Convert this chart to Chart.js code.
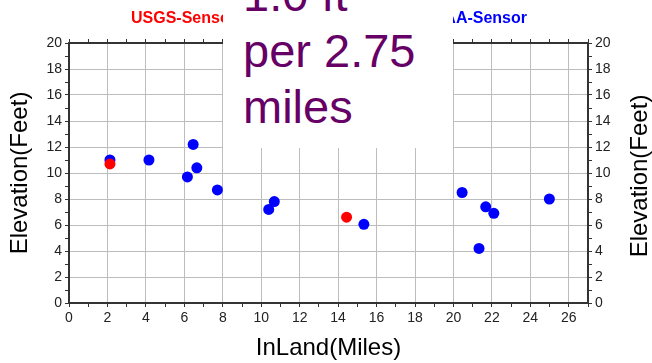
<!DOCTYPE html>
<html>
<head>
<meta charset="utf-8">
<script src="https://cdn.jsdelivr.net/npm/chart.js@4"></script>
<style>
  body { margin: 0; background: #fff; }
  #wrap { position: relative; width: 652px; height: 363px; overflow: hidden; }
  #note {
    position: absolute; left: 223px; top: 0; width: 230px; height: 148px;
    background: #fff; overflow: hidden;
  }
  #note div {
    margin-top: -33px; padding-left: 20px;
    font: 47px "Liberation Sans", Arial, sans-serif; line-height: 56px; color: #660066;
  }
</style>
</head>
<body>
<div id="wrap">
  <canvas id="myChart" width="652" height="363"></canvas>
  <div id="note"><div>1.0 ft<br>per 2.75<br>miles</div></div>
</div>
<script>
// readings
const usgsMiles = [2.13, 14.44];
const usgsFeet = [10.7, 6.6];
const noaaMiles = [2.13, 4.16, 6.46, 6.16, 6.65, 7.72, 10.39, 10.68, 15.34, 20.45, 21.33, 21.68, 22.1, 24.99];
const noaaFeet = [11.0, 11.0, 12.2, 9.7, 10.4, 8.7, 7.2, 7.8, 6.05, 8.5, 4.2, 7.4, 6.9, 8.0];
const xRange = [0, 27];
const yRange = [0, 20];

const toPoints = (xs, ys) => xs.map((x, i) => ({ x: x, y: ys[i] }));

const FONT = '"Liberation Sans", Arial, sans-serif';
const evenLabel = v => (v % 2 === 0 ? v : '');
const gridCol = c => (c.tick && c.tick.value % 2 === 0 ? '#bdbdbd' : 'rgba(0,0,0,0)');

// legend + right-hand title drawn by hand (GMT style)
const extras = {
    id: 'extras',
    afterDraw(chart) {
        const ctx = chart.ctx;
        const ds = chart.data.datasets;
        ctx.save();
        ctx.font = 'bold 16px ' + FONT;
        ctx.textBaseline = 'alphabetic';
        ctx.fillStyle = ds[0].backgroundColor;
        ctx.textAlign = 'left';
        ctx.fillText(ds[0].label, 131, 23);
        ctx.fillStyle = ds[1].backgroundColor;
        ctx.textAlign = 'right';
        ctx.fillText(ds[1].label, 527, 23);

        const area = chart.chartArea;
        ctx.translate(647, (area.top + area.bottom) / 2 + 3);
        ctx.rotate(-Math.PI / 2);
        ctx.textAlign = 'center';
        ctx.font = '24px ' + FONT;
        ctx.fillStyle = '#000';
        ctx.fillText('Elevation(Feet)', 0, 0);
        ctx.restore();
    }
};

const tickFont = { family: FONT, size: 14 };

new Chart(document.getElementById('myChart').getContext('2d'), {
    type: 'scatter',
    data: {
        datasets: [{
            label: 'USGS-Sensor',
            data: toPoints(usgsMiles, usgsFeet),
            backgroundColor: '#ff0000',
            borderWidth: 0,
            pointRadius: 5.5
        }, {
            label: 'NOAA-Sensor',
            data: toPoints(noaaMiles, noaaFeet),
            backgroundColor: '#0000ff',
            borderWidth: 0,
            pointRadius: 5.5
        }]
    },
    options: {
        responsive: false,
        animation: false,
        layout: { padding: 0 },
        plugins: { legend: { display: false }, tooltip: { enabled: false } },
        scales: {
            x: {
                type: 'linear', position: 'bottom', min: xRange[0], max: xRange[1],
                afterFit: s => { s.height = 60; },
                ticks: { stepSize: 1, autoSkip: false, maxRotation: 0, callback: evenLabel,
                         font: tickFont, color: '#222', padding: 3 },
                grid: { color: gridCol, tickColor: '#333', tickLength: 4 },
                border: { color: '#333', width: 2 },
                title: { display: true, text: 'InLand(Miles)', color: '#000',
                         font: { family: FONT, size: 24 }, padding: { top: 4, bottom: 0 } }
            },
            xTop: {
                type: 'linear', position: 'top', min: xRange[0], max: xRange[1],
                afterFit: s => { s.height = 43; },
                ticks: { stepSize: 1, autoSkip: false, maxRotation: 0, callback: () => '' },
                grid: { drawOnChartArea: false, tickColor: '#333', tickLength: 4 },
                border: { color: '#333', width: 2 }
            },
            y: {
                type: 'linear', position: 'left', min: yRange[0], max: yRange[1],
                afterFit: s => { s.width = 69; },
                ticks: { stepSize: 1, autoSkip: false, callback: evenLabel,
                         font: tickFont, color: '#222', padding: 3 },
                grid: { color: gridCol, tickColor: '#333', tickLength: 4 },
                border: { color: '#333', width: 2 },
                title: { display: true, text: 'Elevation(Feet)', color: '#000',
                         font: { family: FONT, size: 24 }, padding: { top: 6, bottom: 0 } }
            },
            yRight: {
                type: 'linear', position: 'right', min: yRange[0], max: yRange[1],
                afterFit: s => { s.width = 64; },
                ticks: { stepSize: 1, autoSkip: false, callback: evenLabel,
                         font: tickFont, color: '#222', padding: 3 },
                grid: { drawOnChartArea: false, tickColor: '#333', tickLength: 4 },
                border: { color: '#333', width: 2 }
            }
        }
    },
    plugins: [extras]
});
</script>
</body>
</html>
